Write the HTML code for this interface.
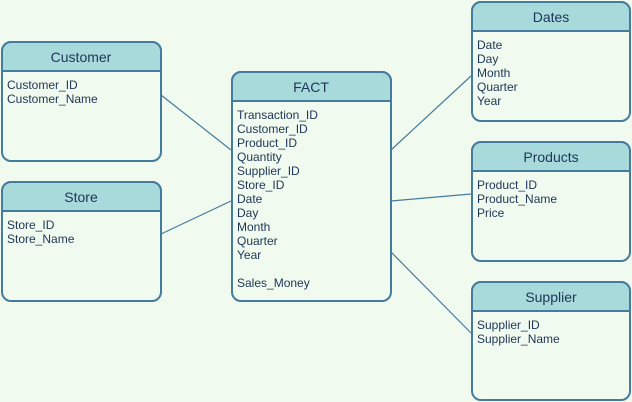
<!DOCTYPE html>
<html><head><meta charset="utf-8"><style>
html,body{margin:0;padding:0;background:#f1faee;}
svg{display:block;}
text{font-family:"Liberation Sans",Arial,sans-serif;fill:#1d3557;}
.h{font-size:14px;text-anchor:middle;}
.t{font-size:12px;}
</style></head><body>
<svg width="632" height="402" viewBox="0 0 632 402">
<rect width="632" height="402" fill="#f1faee"/>
<g stroke="#457b9d" stroke-width="1.2" fill="none">
<line x1="161" y1="95" x2="231" y2="150"/>
<line x1="161" y1="234" x2="231" y2="201"/>
<line x1="391" y1="150" x2="471" y2="76"/>
<line x1="391" y1="201" x2="471" y2="194"/>
<line x1="391" y1="252" x2="471" y2="333"/>
</g>
<g stroke="#457b9d" stroke-width="2">
<!-- Customer -->
<rect x="2" y="42" width="159" height="119" rx="9" fill="#f1faee"/>
<path d="M2,71 V51 a9,9 0 0 1 9,-9 H152 a9,9 0 0 1 9,9 V71 Z" fill="#a8dadc"/>
<!-- Store -->
<rect x="2" y="182" width="159" height="119" rx="9" fill="#f1faee"/>
<path d="M2,211 V191 a9,9 0 0 1 9,-9 H152 a9,9 0 0 1 9,9 V211 Z" fill="#a8dadc"/>
<!-- FACT -->
<rect x="232" y="72" width="159" height="229" rx="9" fill="#f1faee"/>
<path d="M232,101 V81 a9,9 0 0 1 9,-9 H382 a9,9 0 0 1 9,9 V101 Z" fill="#a8dadc"/>
<!-- Dates -->
<rect x="472" y="2" width="158" height="119" rx="9" fill="#f1faee"/>
<path d="M472,31 V11 a9,9 0 0 1 9,-9 H621 a9,9 0 0 1 9,9 V31 Z" fill="#a8dadc"/>
<!-- Products -->
<rect x="472" y="142" width="158" height="119" rx="9" fill="#f1faee"/>
<path d="M472,171 V151 a9,9 0 0 1 9,-9 H621 a9,9 0 0 1 9,9 V171 Z" fill="#a8dadc"/>
<!-- Supplier -->
<rect x="472" y="282" width="158" height="118" rx="9" fill="#f1faee"/>
<path d="M472,311 V291 a9,9 0 0 1 9,-9 H621 a9,9 0 0 1 9,9 V311 Z" fill="#a8dadc"/>
</g>
<text class="h" x="81" y="62">Customer</text>
<text class="h" x="81" y="202">Store</text>
<text class="h" x="311" y="92">FACT</text>
<text class="h" x="551" y="22">Dates</text>
<text class="h" x="551" y="162">Products</text>
<text class="h" x="551" y="302">Supplier</text>
<g class="t">
<text class="t" x="7" y="89">Customer_ID</text>
<text class="t" x="7" y="103">Customer_Name</text>
<text class="t" x="7" y="229">Store_ID</text>
<text class="t" x="7" y="243">Store_Name</text>
<text class="t" x="237" y="119">Transaction_ID</text>
<text class="t" x="237" y="133">Customer_ID</text>
<text class="t" x="237" y="147">Product_ID</text>
<text class="t" x="237" y="161">Quantity</text>
<text class="t" x="237" y="175">Supplier_ID</text>
<text class="t" x="237" y="189">Store_ID</text>
<text class="t" x="237" y="203">Date</text>
<text class="t" x="237" y="217">Day</text>
<text class="t" x="237" y="231">Month</text>
<text class="t" x="237" y="245">Quarter</text>
<text class="t" x="237" y="259">Year</text>
<text class="t" x="237" y="287">Sales_Money</text>
<text class="t" x="477" y="49">Date</text>
<text class="t" x="477" y="63">Day</text>
<text class="t" x="477" y="77">Month</text>
<text class="t" x="477" y="91">Quarter</text>
<text class="t" x="477" y="105">Year</text>
<text class="t" x="477" y="189">Product_ID</text>
<text class="t" x="477" y="203">Product_Name</text>
<text class="t" x="477" y="217">Price</text>
<text class="t" x="477" y="329">Supplier_ID</text>
<text class="t" x="477" y="343">Supplier_Name</text>
</g>
</svg>
</body></html>
